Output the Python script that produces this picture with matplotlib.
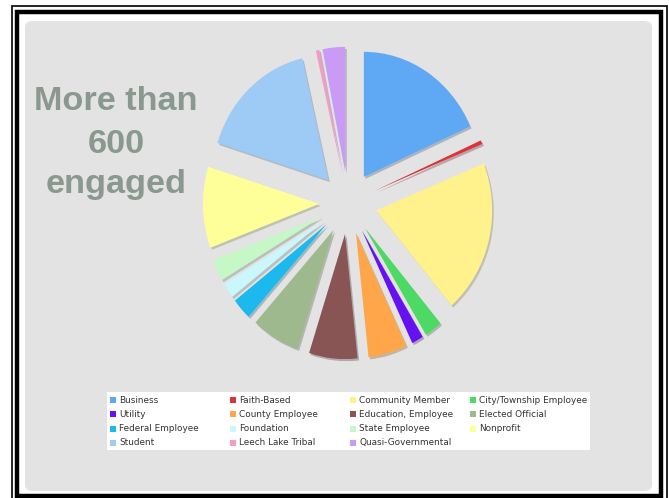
import matplotlib.pyplot as plt
from matplotlib.patches import FancyBboxPatch, Rectangle

W, H = 669, 498

groups = [
    "Business", "Faith-Based", "Community Member", "City/Township Employee",
    "Utility", "County Employee", "Education, Employee", "Elected Official",
    "Federal Employee", "Foundation", "State Employee", "Nonprofit",
    "Student", "Leech Lake Tribal", "Quasi-Governmental",
]
counts = [112, 3, 121, 15, 10, 33, 41, 41, 17, 12, 17, 64, 101, 3, 19]
colors = [
    "#5ea8f4", "#d8343a", "#fff28c", "#4cd964",
    "#6611f2", "#ffa64a", "#885454", "#9fb98f",
    "#1cb9ef", "#c9f7fb", "#c6f7c6", "#ffff99",
    "#9dcbf6", "#f59bc6", "#c99bf6",
]
headline = ["More than", "600", "engaged"]


def fx(x):
    return x / W


def fy(y):
    return 1 - y / H


fig = plt.figure(figsize=(W / 100, H / 100), dpi=100, facecolor="white")

# frame: thin outer line, thick inner line, grey rounded panel (behind the axes)
fig.add_artist(Rectangle((fx(11.5), fy(499)), (667 - 11.5) / W, (499 - 6.5) / H,
                         transform=fig.transFigure, fill=False, lw=1.2, ec="black",
                         zorder=-10))
fig.add_artist(Rectangle((fx(17), fy(496)), (661 - 17) / W, (496 - 12.5) / H,
                         transform=fig.transFigure, fill=False, lw=3.2, ec="black",
                         zorder=-10))
fig.add_artist(FancyBboxPatch((fx(25), fy(491)), (652 - 25) / W, (491 - 21) / H,
                              boxstyle="round,pad=0,rounding_size=0.012",
                              transform=fig.transFigure, fc="#e3e3e3", ec="none",
                              zorder=-10))

# pie, slightly stretched vertically like the source
cx, cy, rx, ry = 348, 203, 116, 125
ax = fig.add_axes([fx(cx - 1.5 * rx), fy(cy + 1.5 * ry), 3 * rx / W, 3 * ry / H])
wedges, _ = ax.pie(
    counts,
    colors=colors,
    startangle=90,
    counterclock=False,
    explode=[0.25] * len(counts),
    wedgeprops=dict(linewidth=0),
    shadow=dict(ox=0.01, oy=-0.012, shade=0.55, alpha=0.3),
)
ax.set_xlim(-1.5, 1.5)
ax.set_ylim(-1.5, 1.5)
ax.set_aspect("auto")
ax.axis("off")

# headline
for line, base in zip(headline, [110, 153, 193]):
    fig.text(fx(116), fy(base), line, ha="center", va="baseline",
             fontsize=24.7, fontweight="bold", family="Liberation Sans",
             color="#8a9990")

# legend, laid out row by row in four columns
fig.add_artist(Rectangle((fx(107), fy(450)), (590 - 107) / W, (450 - 392) / H,
                         transform=fig.transFigure, fc="white", ec="none"))
for i, (name, w) in enumerate(zip(groups, wedges)):
    row, col = divmod(i, 4)
    x0 = 110 + 120 * col
    yc = 400 + 14.3 * row
    fig.add_artist(Rectangle((fx(x0), fy(yc + 3)), 6 / W, 6 / H,
                             transform=fig.transFigure,
                             fc=w.get_facecolor(), ec="none"))
    fig.text(fx(x0 + 9), fy(yc), name, ha="left", va="center",
             fontsize=6.4, family="DejaVu Sans", color="#333333")

fig.savefig("out.png", dpi=100, facecolor="white")
